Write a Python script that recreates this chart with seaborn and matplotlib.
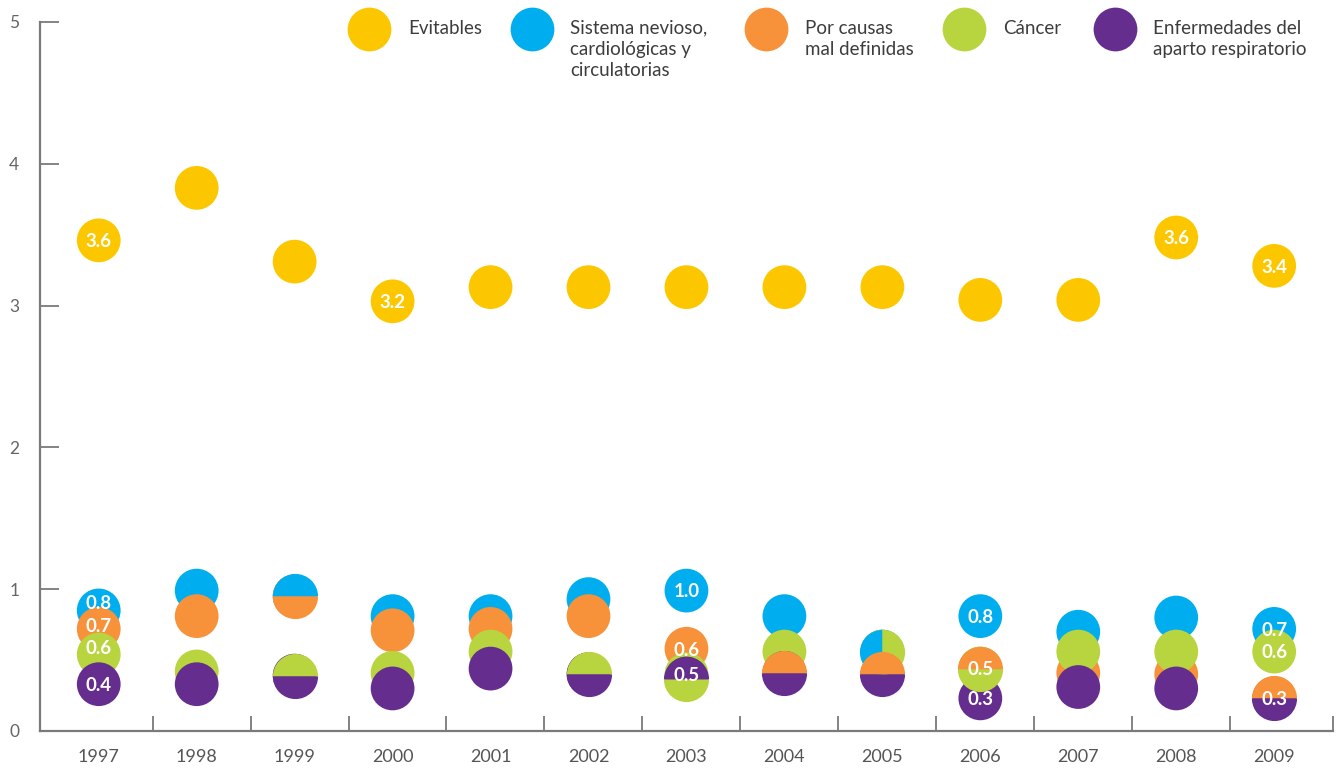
import matplotlib
matplotlib.use("Agg")
import matplotlib.pyplot as plt
import seaborn as sns
import pandas as pd
import numpy as np

# ---------------- data ----------------
years = [1997, 1998, 1999, 2000, 2001, 2002, 2003, 2004, 2005, 2006, 2007, 2008, 2009]
evitables = [3.46, 3.83, 3.31, 3.03, 3.13, 3.13, 3.13, 3.13, 3.13, 3.04, 3.04, 3.48, 3.28]
sistema = [0.85, 0.99, 0.95, 0.81, 0.81, 0.93, 0.99, 0.81, 0.56, 0.81, 0.70, 0.80, 0.72]
causas = [0.72, 0.81, 0.95, 0.71, 0.72, 0.81, 0.58, 0.41, 0.40, 0.44, 0.41, 0.40, 0.23]
cancer = [0.54, 0.42, 0.39, 0.41, 0.56, 0.40, 0.40, 0.56, 0.56, 0.44, 0.56, 0.56, 0.56]
respiratorio = [0.33, 0.33, 0.39, 0.30, 0.44, 0.40, 0.37, 0.41, 0.40, 0.23, 0.31, 0.30, 0.23]

series_names = ["Evitables", "Sistema nevioso,\ncardiológicas y\ncirculatorias",
                "Por causas\nmal definidas", "Cáncer",
                "Enfermedades del\naparto respiratorio"]
series_values = [evitables, sistema, causas, cancer, respiratorio]
colors = ["#FDC700", "#00AEEF", "#F7913A", "#B8D43E", "#642D8E"]

# value labels written on bubbles: (year, series index, text)
value_labels = [
    (1997, 0, "3.6"), (2000, 0, "3.2"), (2008, 0, "3.6"), (2009, 0, "3.4"),
    (1997, 1, "0.8"), (1997, 2, "0.7"), (1997, 3, "0.6"), (1997, 4, "0.4"),
    (2003, 1, "1.0"), (2003, 2, "0.6"), (2003, 4, "0.5"),
    (2006, 1, "0.8"), (2006, 2, "0.5"), (2006, 4, "0.3"),
    (2009, 1, "0.7"), (2009, 3, "0.6"), (2009, 4, "0.3"),
]
# bubbles shared by two series: (year, first series, second series, split style)
split_pairs = [
    (1999, 1, 2, "top"), (1999, 3, 4, "top"), (2002, 3, 4, "top"),
    (2003, 4, 3, "top"), (2004, 2, 4, "top"), (2005, 1, 3, "left"),
    (2005, 2, 4, "top"), (2006, 2, 3, "top"), (2009, 2, 4, "top"),
]

# ---------------- figure ----------------
sns.set_theme(style="white")
plt.rcParams["font.family"] = ["Lato", "DejaVu Sans"]

fig = plt.figure(figsize=(13.41, 7.71), dpi=100)
ax = fig.add_axes([0.0298, 0.0519, 0.9642, 0.9196])

rows = []
for name, vals in zip(series_names, series_values):
    for yr, v in zip(years, vals):
        rows.append({"year": yr, "value": v, "serie": name})
df = pd.DataFrame(rows)

MS = 31.5  # marker diameter in points
sns.scatterplot(data=df, x="year", y="value", hue="serie",
                palette=dict(zip(series_names, colors)), s=MS ** 2,
                linewidth=0, legend=False, ax=ax, zorder=3)

for yr, a, b, style in split_pairs:
    i = years.index(yr)
    ax.plot([yr], [series_values[a][i]], marker="o", markersize=MS + 1.0,
            fillstyle=style, markerfacecolor=colors[a],
            markerfacecoloralt=colors[b], markeredgewidth=0,
            linestyle="none", zorder=4)

label_dy = {(1997, 1): 6, (1997, 2): 3, (1997, 3): 5, (2003, 4): 3}
for yr, s, txt in value_labels:
    i = years.index(yr)
    ax.annotate(txt, (yr, series_values[s][i]), xytext=(0, label_dy.get((yr, s), 0) - 1),
                textcoords="offset points", ha="center", va="center",
                color="white", fontsize=13.5, fontweight="bold", zorder=6)

# axes styling
ax.set_xlim(1996.4, 2009.6)
ax.set_ylim(0, 5)
ax.set_xlabel("")
ax.set_ylabel("")
ax.set_yticks([0, 1, 2, 3, 4, 5])
ax.set_yticklabels(["0", "1", "2", "3", "4", "5"])
ax.set_xticks(years)
ax.set_xticklabels([str(y) for y in years])
ax.set_xticks([y + 0.55 for y in years[:-1]] + [2009.6], minor=True)

for side in ["top", "right"]:
    ax.spines[side].set_visible(False)
for side in ["left", "bottom"]:
    ax.spines[side].set_color("#7a7a7a")
    ax.spines[side].set_linewidth(1.6)

ax.tick_params(axis="y", which="major", direction="in", length=14, width=1.3,
               color="#7a7a7a", pad=15, labelsize=12.5, labelcolor="#666666", left=True)
ax.tick_params(axis="x", which="major", length=0, pad=13, labelsize=13,
               labelcolor="#555555", bottom=True)
ax.tick_params(axis="x", which="minor", direction="in", length=11, width=1.3,
               color="#7a7a7a", bottom=True)
ax.grid(False)

# legend (custom, at the top of the plot area)
leg_x = [0.2546, 0.3803, 0.5615, 0.7147, 0.8312]
for xf, col, name in zip(leg_x, colors, series_names):
    ax.scatter([xf], [0.990], s=MS ** 2, color=col, linewidth=0,
               transform=ax.transAxes, clip_on=False, zorder=5)
    ax.text(xf + 0.030, 1.003, name, transform=ax.transAxes, ha="left", va="top",
            fontsize=13.5, color="#3d3d3d", linespacing=1.3, zorder=5)

fig.savefig("out.png", dpi=100, facecolor="white")
